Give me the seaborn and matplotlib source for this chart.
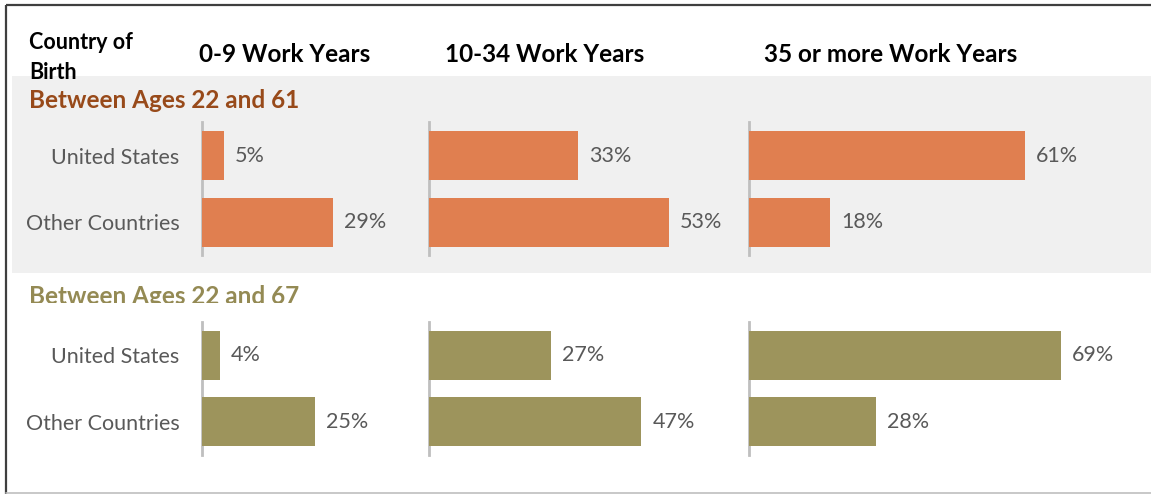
import matplotlib
matplotlib.use("Agg")
import matplotlib.pyplot as plt
import matplotlib.transforms as mtransforms
import seaborn as sns
import pandas as pd

# ---- data -------------------------------------------------------------
categories = ["United States", "Other Countries"]
periods = ["0-9 Work Years", "10-34 Work Years", "35 or more Work Years"]
groups = ["Between Ages 22 and 61", "Between Ages 22 and 67"]

# share of workers (%) per work-year bucket, ages 22-61
ages61_us = [5, 33, 61]
ages61_other = [29, 53, 18]
# share of workers (%) per work-year bucket, ages 22-67
ages67_us = [4, 27, 69]
ages67_other = [25, 47, 28]

rows = []
for g, us, other in [(groups[0], ages61_us, ages61_other),
                     (groups[1], ages67_us, ages67_other)]:
    for p, a, b in zip(periods, us, other):
        rows.append({"group": g, "period": p, "country": categories[0], "share": a})
        rows.append({"group": g, "period": p, "country": categories[1], "share": b})
df = pd.DataFrame(rows)

# ---- style ------------------------------------------------------------
sns.set_theme(style="white")
plt.rcParams["font.family"] = ["Lato", "DejaVu Sans"]

W, H = 1151, 494
fig = plt.figure(figsize=(W / 100, H / 100), dpi=100)

bar_colors = ["#E07F50", "#9D945C"]
group_colors = ["#984A1A", "#948A54"]
label_grey = "#595959"
head_size = 17.5
label_size = 15.5

# pixel-space canvas for band, frame and headings
bg = fig.add_axes([0, 0, 1, 1])
bg.set_xlim(0, W)
bg.set_ylim(H, 0)
bg.axis("off")
bg.add_patch(plt.Rectangle((12, 76), W - 12, 197, color="#F0F0F0", lw=0))
bg.plot([6, W], [5, 5], color="#3F3F3F", lw=1.6, solid_capstyle="butt")
bg.plot([6, 6], [5, H], color="#3F3F3F", lw=1.6, solid_capstyle="butt")
bg.plot([6, W], [H - 1.5, H - 1.5], color="#BFBFBF", lw=1.2)

bg.text(29, 49, "Country of", fontsize=15.5, fontweight="bold", color="black",
        va="baseline", ha="left")
bg.text(29, 79, "Birth", fontsize=15.5, fontweight="bold", color="black",
        va="baseline", ha="left")
header_x = [199, 445, 764]
for x, p in zip(header_x, periods):
    bg.text(x, 62, p, fontsize=head_size, fontweight="bold", color="black",
            va="baseline", ha="left")

bg.text(29, 108, groups[0], fontsize=head_size, fontweight="bold",
        color=group_colors[0], va="baseline", ha="left")
t = bg.text(29, 304, groups[1], fontsize=head_size, fontweight="bold",
            color=group_colors[1], va="baseline", ha="left")
# the lower heading is cut off just under its baseline
clip = mtransforms.Bbox.from_extents(0, 1 - 302.5 / H, 1, 1)
t.set_clip_box(mtransforms.TransformedBbox(clip, fig.transFigure))
t.set_clip_on(True)

# ---- bar panels -------------------------------------------------------
px_per_pct = 4.52
col_x0 = [201.5, 429, 749]
col_w = [227, 320, 400]
row_top = [122.5, 322]
row_h = 133

for r, g in enumerate(groups):
    for c, p in enumerate(periods):
        left = col_x0[c] / W
        bottom = 1 - (row_top[r] + row_h) / H
        ax = fig.add_axes([left, bottom, col_w[c] / W, row_h / H])
        ax.patch.set_alpha(0)
        sub = df[(df.group == g) & (df.period == p)]
        sns.barplot(data=sub, x="share", y="country", order=categories,
                    orient="h", color=bar_colors[r], width=0.74,
                    saturation=1, ax=ax, errorbar=None, linewidth=0)
        ax.set_xlim(0, col_w[c] / px_per_pct)
        ax.set_ylim(1.5, -0.5)
        for name in ["top", "right", "bottom"]:
            ax.spines[name].set_visible(False)
        ax.spines["left"].set_color("#BFBFBF")
        ax.spines["left"].set_linewidth(2)
        ax.spines["left"].set_zorder(0.5)
        ax.set_xticks([])
        ax.set_xlabel("")
        ax.set_ylabel("")
        ax.tick_params(axis="y", length=0, pad=16,
                       labelsize=label_size, labelcolor=label_grey)
        if c != 0:
            ax.set_yticklabels([])
        for cont in ax.containers:
            ax.bar_label(cont, labels=[f"{v:.0f}%" for v in cont.datavalues],
                         padding=8, fontsize=label_size, color=label_grey)

fig.savefig("out.png", dpi=100)
